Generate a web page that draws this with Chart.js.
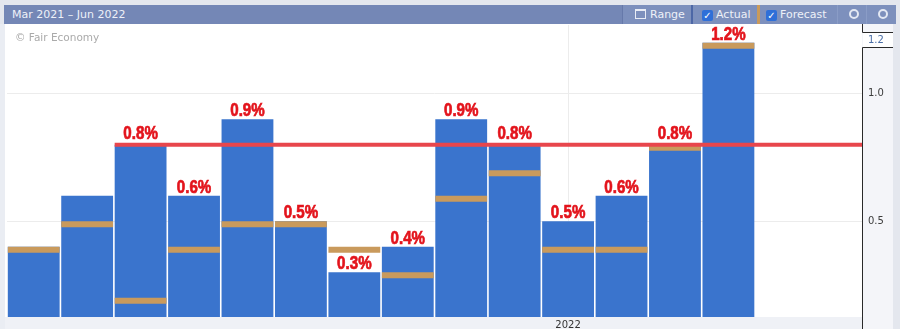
<!DOCTYPE html>
<html>
<head>
<meta charset="utf-8">
<script src="https://cdn.jsdelivr.net/npm/chart.js@4.4.1/dist/chart.umd.min.js"></script>
<style>
    html, body { margin: 0; padding: 0; background: #e4e7ee; }
    #wrap { position: relative; width: 900px; height: 329px; overflow: hidden; }
    #chart { position: absolute; left: 0; top: 0; }
    #hdr {
        position: absolute; left: 4px; top: 5px; width: 891px; height: 19px;
        background: #7487b6; color: #eef1f8;
        font: 11px "DejaVu Sans", sans-serif; line-height: 19px;
    }
    #hdr .title { position: absolute; left: 8px; top: 0; }
    #hdr .btn { position: absolute; top: 0; height: 19px; background: #7d90bd; }
    #hdr .chk {
        display: inline-block; width: 11px; height: 11px; background: #2f6fd8;
        border-radius: 2px; color: #fff; font-size: 10px; line-height: 11px;
        text-align: center; vertical-align: -1px; margin-right: 3px; font-style: normal;
    }
    #hdr .cal {
        display: inline-block; width: 9px; height: 7px; border: 1px solid #e8ecf5;
        border-top-width: 2px; vertical-align: -1px; margin-right: 4px;
    }
    #hdr .mag {
        position: absolute; top: 4px; width: 6px; height: 6px;
        border: 2px solid #e3e8f3; border-radius: 50%;
    }
    #copy {
        position: absolute; left: 15px; top: 31px; color: #aaaaaa;
        font: 10.5px "DejaVu Sans", sans-serif;
    }
</style>
</head>
<body>
<div id="wrap">
    <canvas id="chart" width="900" height="329"></canvas>
    <div id="hdr">
        <span class="title">Mar 2021 – Jun 2022</span>
        <span class="btn" style="left:618px;width:69px;border-left:1px solid #6679aa;">
            <span style="margin-left:12px"><i class="cal"></i>Range</span></span>
        <span class="btn" style="left:687px;width:66px;border-left:2px solid #4d67a6;">
            <span style="margin-left:9px"><i class="chk">✓</i>Actual</span></span>
        <span class="btn" style="left:753px;width:79px;border-left:3px solid #c99a5c;">
            <span style="margin-left:6px"><i class="chk">✓</i>Forecast</span></span>
        <span class="btn" style="left:833px;width:29px;border-left:1px solid #8a9cc6;"><i class="mag" style="left:11px"></i></span>
        <span class="btn" style="left:862px;width:29px;border-left:1px solid #8a9cc6;"><i class="mag" style="left:11px"></i></span>
    </div>
    <div id="copy">© Fair Economy</div>
</div>
<script>
    // --- data ---
    const months = ['Mar 2021', 'Apr 2021', 'May 2021', 'Jun 2021', 'Jul 2021', 'Aug 2021',
        'Sep 2021', 'Oct 2021', 'Nov 2021', 'Dec 2021', 'Jan 2022', 'Feb 2022',
        'Mar 2022', 'Apr 2022', 'May 2022', 'Jun 2022'];
    const actual = [0.4, 0.6, 0.8, 0.6, 0.9, 0.5, 0.3, 0.4, 0.9, 0.8, 0.5, 0.6, 0.8, 1.2, null, null];
    const forecast = [0.4, 0.5, 0.2, 0.4, 0.5, 0.5, 0.4, 0.3, 0.6, 0.7, 0.4, 0.4, 0.8, 1.2, null, null];
    const labelFrom = 2;          // red % labels start at May 2021
    const trendLevel = 0.8;       // red horizontal line
    const trendFrom = 2;
    const yTicks = [0.5, 1.0];
    const yMin = 0.125;
    const yMax = 1.27;

    const blue = '#3a74cd';
    const orange = '#c99a5c';
    const red = '#e3141c';
    const markH = 0.0235;         // forecast marker thickness in value units

    const yearIdx = months.indexOf('Jan 2022');

    const backdrop = {
        id: 'backdrop',
        beforeDraw(chart) {
            const { ctx, chartArea: a } = chart;
            ctx.save();
            ctx.fillStyle = '#e4e7ee';
            ctx.fillRect(0, 0, 900, 329);
            ctx.fillStyle = '#eaedf3';
            ctx.fillRect(0, 24, 5, 305);
            ctx.fillStyle = '#ffffff';
            ctx.fillRect(5, 24, a.right - 5, a.bottom - 24);
            ctx.fillStyle = '#eff1f6';
            ctx.fillRect(5, a.bottom, a.right - 5, 329 - a.bottom);
            ctx.fillStyle = '#f4f5f9';
            ctx.fillRect(a.right, 24, 31, 305);
            ctx.restore();
        }
    };

    const annotations = {
        id: 'annotations',
        afterDatasetsDraw(chart) {
            const { ctx, scales: { y } } = chart;
            const bars = chart.getDatasetMeta(1).data;
            const lineY = y.getPixelForValue(trendLevel);
            ctx.save();
            // trend line
            const b0 = bars[trendFrom];
            ctx.strokeStyle = '#e8464c';
            ctx.lineWidth = 4;
            ctx.beginPath();
            ctx.moveTo(b0.x - b0.width / 2, lineY);
            ctx.lineTo(chart.chartArea.right, lineY);
            ctx.stroke();
            // labels
            ctx.fillStyle = red;
            ctx.strokeStyle = red;
            ctx.lineWidth = 0.7;
            ctx.font = 'bold 18px "Liberation Sans", sans-serif';
            ctx.textAlign = 'center';
            ctx.textBaseline = 'alphabetic';
            actual.forEach((v, i) => {
                if (v === null || i < labelFrom) return;
                const top = y.getPixelForValue(v);
                // sit a bit higher when the bar top is hidden under the red line
                const base = Math.abs(top - lineY) < 3 ? lineY - 6 : top - 3;
                ctx.save();
                ctx.translate(bars[i].x, base);
                ctx.scale(0.84, 1);
                const t = v.toFixed(1) + '%';
                ctx.fillText(t, 0, 0);
                ctx.strokeText(t, 0, 0);
                ctx.restore();
            });
            ctx.restore();
        },
        afterDraw(chart) {
            const { ctx, chartArea: a, scales: { y } } = chart;
            const last = actual.filter(v => v !== null).pop();
            const py = Math.round(y.getPixelForValue(last));
            const ax = a.right + 0.5;
            ctx.save();
            ctx.strokeStyle = '#2a2a2a';
            ctx.lineWidth = 1;
            ctx.beginPath();
            ctx.moveTo(ax, 24);
            ctx.lineTo(ax, py - 10.5);
            ctx.lineTo(a.right + 31, py - 10.5);
            ctx.moveTo(a.right + 31, py + 4.5);
            ctx.lineTo(ax, py + 4.5);
            ctx.lineTo(ax, 329);
            ctx.stroke();
            ctx.fillStyle = '#ffffff';
            ctx.fillRect(a.right + 1, py - 10, 30, 14);
            ctx.fillStyle = '#4b6fa8';
            ctx.font = '10px "DejaVu Sans", sans-serif';
            ctx.textAlign = 'left';
            ctx.textBaseline = 'middle';
            ctx.fillText(last.toFixed(1), a.right + 6, py - 3);
            ctx.restore();
        }
    };

    new Chart(document.getElementById('chart'), {
        type: 'bar',
        data: {
            labels: months,
            datasets: [
                {
                    label: 'Forecast',
                    data: forecast.map(v => v === null ? null : [v - markH, v]),
                    backgroundColor: orange,
                    grouped: false,
                    order: 0,
                    categoryPercentage: 1,
                    barPercentage: 0.97
                },
                {
                    label: 'Actual',
                    data: actual,
                    backgroundColor: blue,
                    grouped: false,
                    order: 1,
                    categoryPercentage: 1,
                    barPercentage: 0.97
                }
            ]
        },
        options: {
            responsive: false,
            animation: false,
            layout: { padding: { left: 7, top: 25, right: 7, bottom: 0 } },
            plugins: {
                legend: { display: false },
                tooltip: { enabled: false }
            },
            scales: {
                x: {
                    offset: true,
                    afterFit(s) { s.height = 11; },
                    grid: {
                        offset: false,
                        drawTicks: false,
                        color: c => c.index === yearIdx ? '#ececec' : 'rgba(0,0,0,0)'
                    },
                    border: { display: false },
                    ticks: {
                        autoSkip: false,
                        maxRotation: 0,
                        padding: 2,
                        color: '#333333',
                        font: { family: 'DejaVu Sans', size: 10 },
                        callback: (v, i) => i === yearIdx ? months[i].split(' ')[1] : ''
                    }
                },
                y: {
                    position: 'right',
                    min: yMin,
                    max: yMax,
                    afterFit(s) { s.width = 31; },
                    afterBuildTicks(s) { s.ticks = yTicks.map(v => ({ value: v })); },
                    grid: { color: '#ececec', drawTicks: false },
                    border: { display: false },
                    ticks: {
                        padding: 6,
                        color: '#3c3c3c',
                        font: { family: 'DejaVu Sans', size: 10 },
                        callback: v => v.toFixed(1)
                    }
                }
            }
        },
        plugins: [backdrop, annotations]
    });
</script>
</body>
</html>
